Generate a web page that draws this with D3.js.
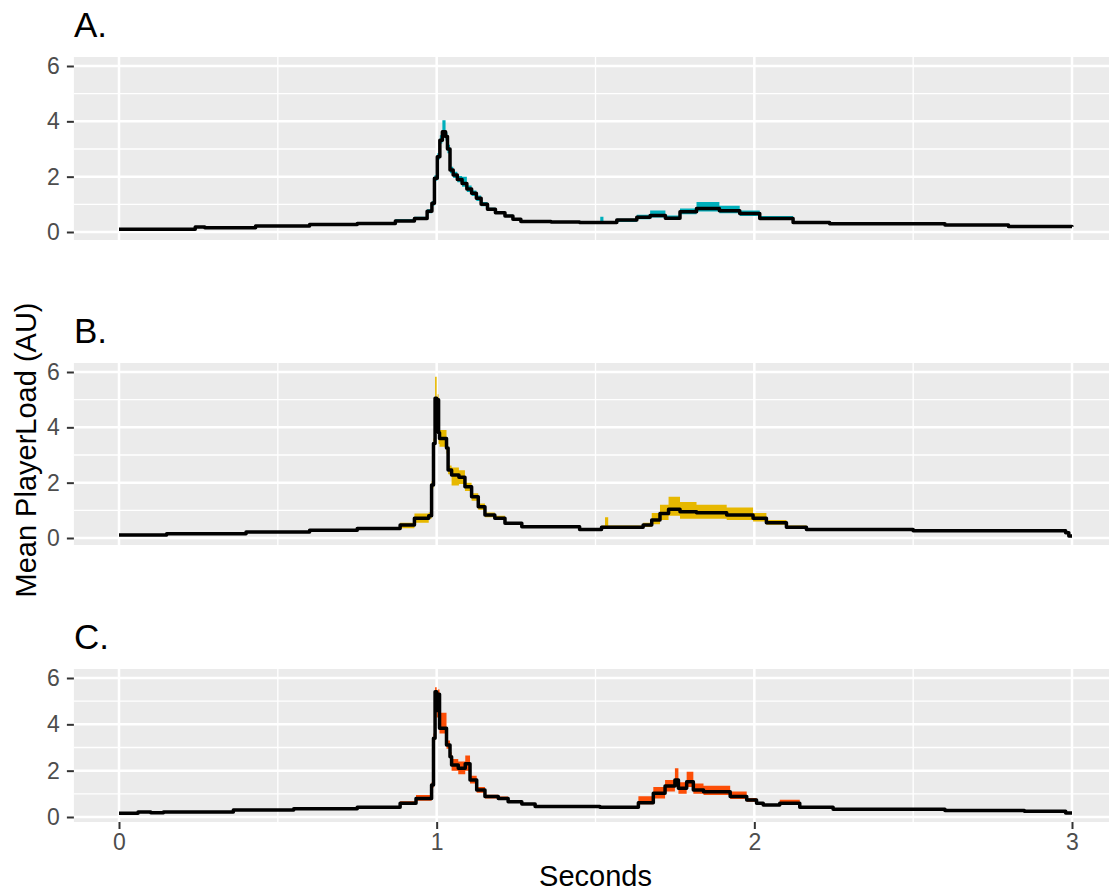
<!DOCTYPE html>
<html>
<head>
<meta charset="utf-8">
<script src="https://cdn.jsdelivr.net/npm/d3@7"></script>
<style>
  body { margin: 0; background: #fff; }
  svg { display: block; font-family: "Liberation Sans", Arial, sans-serif; }
</style>
</head>
<body>
<svg width="1109" height="894"></svg>
<script>
// panel A
var timeA = [0.00, 0.24, 0.27, 0.43, 0.60, 0.75, 0.87, 0.93, 0.97, 0.985, 0.993, 1.002, 1.010, 1.018, 1.028, 1.034, 1.042, 1.052, 1.065, 1.080, 1.095, 1.110, 1.125, 1.140, 1.160, 1.185, 1.215, 1.240, 1.265, 1.36, 1.45, 1.515, 1.525, 1.567, 1.63, 1.672, 1.72, 1.766, 1.818, 1.89, 1.954, 2.017, 2.122, 2.237, 2.6, 2.8, 3.0];
var meanA = [0.10, 0.18, 0.15, 0.22, 0.27, 0.31, 0.40, 0.49, 0.75, 1.04, 1.94, 2.72, 3.32, 3.62, 3.45, 3.00, 2.24, 2.06, 1.90, 1.75, 1.55, 1.40, 1.22, 1.00, 0.82, 0.70, 0.58, 0.46, 0.38, 0.36, 0.34, 0.34, 0.34, 0.43, 0.53, 0.60, 0.50, 0.73, 0.85, 0.77, 0.67, 0.49, 0.34, 0.30, 0.25, 0.20, 0.19];
var lowA  = [0.09, 0.17, 0.14, 0.21, 0.26, 0.30, 0.36, 0.44, 0.68, 0.95, 1.85, 2.62, 3.20, 3.50, 3.30, 2.85, 2.12, 1.95, 1.80, 1.64, 1.45, 1.30, 1.12, 0.93, 0.76, 0.66, 0.55, 0.44, 0.37, 0.35, 0.33, 0.33, 0.33, 0.36, 0.46, 0.52, 0.44, 0.64, 0.74, 0.68, 0.58, 0.43, 0.32, 0.29, 0.24, 0.19, 0.18];
var highA = [0.11, 0.19, 0.16, 0.23, 0.28, 0.32, 0.46, 0.55, 0.82, 1.12, 2.05, 2.85, 3.50, 4.04, 3.60, 3.15, 2.36, 2.18, 2.02, 2.00, 1.68, 1.50, 1.32, 1.08, 0.88, 0.76, 0.62, 0.50, 0.40, 0.38, 0.36, 0.55, 0.36, 0.48, 0.62, 0.78, 0.60, 0.85, 1.08, 0.95, 0.78, 0.58, 0.38, 0.32, 0.26, 0.21, 0.20];

// panel B
var timeB = [0.00, 0.15, 0.40, 0.60, 0.75, 0.885, 0.93, 0.975, 0.984, 0.990, 0.995, 1.000, 1.003, 1.006, 1.009, 1.031, 1.036, 1.047, 1.070, 1.089, 1.110, 1.131, 1.152, 1.183, 1.215, 1.268, 1.45, 1.519, 1.53, 1.54, 1.65, 1.677, 1.703, 1.73, 1.766, 1.818, 1.913, 1.996, 2.038, 2.101, 2.164, 2.5, 2.98, 2.99, 3.0];
var meanB = [0.11, 0.15, 0.22, 0.28, 0.34, 0.47, 0.71, 0.80, 1.92, 3.42, 5.05, 4.20, 5.00, 3.80, 3.60, 3.25, 2.46, 2.28, 2.20, 1.85, 1.49, 1.13, 0.83, 0.71, 0.53, 0.41, 0.31, 0.39, 0.39, 0.39, 0.47, 0.65, 0.89, 1.04, 0.95, 0.91, 0.83, 0.71, 0.55, 0.39, 0.31, 0.26, 0.19, 0.07, 0.07];
var lowB  = [0.10, 0.14, 0.21, 0.27, 0.32, 0.35, 0.55, 0.70, 1.80, 3.30, 4.90, 3.90, 4.80, 3.40, 3.30, 3.05, 2.30, 1.90, 1.95, 1.70, 1.35, 1.02, 0.75, 0.66, 0.50, 0.39, 0.30, 0.33, 0.33, 0.36, 0.40, 0.50, 0.65, 0.80, 0.70, 0.70, 0.65, 0.60, 0.48, 0.35, 0.29, 0.25, 0.18, 0.06, 0.06];
var highB = [0.12, 0.16, 0.23, 0.29, 0.36, 0.55, 0.89, 0.92, 2.05, 3.60, 5.83, 4.60, 5.20, 4.10, 3.90, 3.45, 2.62, 2.55, 2.45, 2.00, 1.62, 1.25, 0.92, 0.80, 0.58, 0.44, 0.33, 0.45, 0.75, 0.45, 0.55, 0.90, 1.20, 1.49, 1.30, 1.20, 1.10, 0.90, 0.65, 0.45, 0.33, 0.27, 0.20, 0.08, 0.08];

// panel C
var timeC = [0.00, 0.06, 0.10, 0.14, 0.36, 0.55, 0.75, 0.885, 0.935, 0.984, 0.990, 0.995, 1.000, 1.004, 1.009, 1.031, 1.042, 1.047, 1.068, 1.090, 1.105, 1.126, 1.152, 1.194, 1.225, 1.268, 1.31, 1.514, 1.635, 1.682, 1.719, 1.75, 1.761, 1.787, 1.808, 1.84, 1.924, 1.976, 2.007, 2.028, 2.08, 2.143, 2.248, 2.6, 2.85, 2.98, 3.0];
var meanC = [0.16, 0.22, 0.18, 0.22, 0.30, 0.36, 0.42, 0.59, 0.80, 1.38, 3.40, 5.41, 4.60, 5.30, 3.83, 3.11, 2.60, 2.24, 2.10, 2.30, 1.60, 1.17, 0.88, 0.80, 0.66, 0.56, 0.45, 0.42, 0.62, 1.02, 1.34, 1.60, 1.24, 1.52, 1.17, 1.09, 0.88, 0.73, 0.59, 0.52, 0.59, 0.42, 0.33, 0.28, 0.25, 0.17, 0.17];
var lowC  = [0.15, 0.21, 0.17, 0.21, 0.29, 0.35, 0.40, 0.52, 0.70, 1.25, 3.25, 5.20, 4.30, 5.00, 3.60, 2.95, 2.45, 2.00, 1.85, 2.00, 1.45, 1.05, 0.80, 0.74, 0.62, 0.53, 0.43, 0.40, 0.55, 0.80, 1.10, 1.30, 1.00, 1.30, 1.00, 0.95, 0.78, 0.66, 0.55, 0.49, 0.52, 0.40, 0.32, 0.27, 0.24, 0.16, 0.16];
var highC = [0.17, 0.23, 0.19, 0.23, 0.31, 0.37, 0.46, 0.68, 0.95, 1.50, 3.60, 5.60, 4.90, 5.50, 4.50, 3.30, 2.80, 2.50, 2.40, 2.65, 1.78, 1.30, 0.96, 0.88, 0.72, 0.60, 0.48, 0.44, 0.90, 1.30, 1.60, 2.10, 1.50, 1.95, 1.45, 1.35, 1.10, 0.82, 0.65, 0.56, 0.75, 0.45, 0.35, 0.29, 0.26, 0.18, 0.18];

var panelTitles = ["A.", "B.", "C."];
var ribbonColors = ["#00AFBB", "#E7B800", "#FC4E07"];
var xTicks = [0, 1, 2, 3];
var yTicks = [0, 2, 4, 6];

var svg = d3.select("svg");

var x = d3.scaleLinear().domain([0, 3]).range([119, 1072]);
var xLeft = x(-0.142), xRight = x(3.142);

// pixel layout of each panel: where 0 and 6 sit, and the panel's top/bottom edge
var layout = [
  { zero: 232, six: 66, top: 57, bottom: 240 },
  { zero: 538, six: 372, top: 363, bottom: 545 },
  { zero: 817, six: 678, top: 669, bottom: 822 }
];
var series = [
  { t: timeA, m: meanA, lo: lowA, hi: highA },
  { t: timeB, m: meanB, lo: lowB, hi: highB },
  { t: timeC, m: meanC, lo: lowC, hi: highC }
];

layout.forEach(function (p, i) {
  var y = d3.scaleLinear().domain([0, 6]).range([p.zero, p.six]);
  var g = svg.append("g");

  g.append("rect")
    .attr("x", xLeft).attr("y", p.top)
    .attr("width", xRight - xLeft).attr("height", p.bottom - p.top)
    .attr("fill", "#EBEBEB");

  // minor grid
  [1, 3, 5].forEach(function (v) {
    g.append("line").attr("x1", xLeft).attr("x2", xRight)
      .attr("y1", y(v)).attr("y2", y(v))
      .attr("stroke", "#fff").attr("stroke-width", 1.3);
  });
  [0.5, 1.5, 2.5].forEach(function (v) {
    g.append("line").attr("x1", x(v)).attr("x2", x(v))
      .attr("y1", p.top).attr("y2", p.bottom)
      .attr("stroke", "#fff").attr("stroke-width", 1.3);
  });
  // major grid
  yTicks.forEach(function (v) {
    g.append("line").attr("x1", xLeft).attr("x2", xRight)
      .attr("y1", y(v)).attr("y2", y(v))
      .attr("stroke", "#fff").attr("stroke-width", 2.5);
  });
  xTicks.forEach(function (v) {
    g.append("line").attr("x1", x(v)).attr("x2", x(v))
      .attr("y1", p.top).attr("y2", p.bottom)
      .attr("stroke", "#fff").attr("stroke-width", 2.5);
  });

  var s = series[i];
  var rows = s.t.map(function (t, k) {
    return { t: t, m: s.m[k], lo: s.lo[k], hi: s.hi[k] };
  });

  var area = d3.area()
    .curve(d3.curveStepAfter)
    .x(function (d) { return x(d.t); })
    .y0(function (d) { return y(d.lo); })
    .y1(function (d) { return y(d.hi); });
  var line = d3.line()
    .curve(d3.curveStepAfter)
    .x(function (d) { return x(d.t); })
    .y(function (d) { return y(d.m); });

  g.append("path").datum(rows)
    .attr("fill", ribbonColors[i])
    .attr("d", area);
  g.append("path").datum(rows)
    .attr("fill", "none")
    .attr("stroke", "#000")
    .attr("stroke-width", 3.5)
    .attr("stroke-linejoin", "round")
    .attr("d", line);

  // y axis
  var ya = g.append("g")
    .attr("transform", "translate(" + xLeft + ",0)")
    .call(d3.axisLeft(y).tickValues(yTicks).tickSize(7).tickPadding(7).tickFormat(d3.format("d")));
  ya.select(".domain").remove();
  ya.selectAll(".tick line").attr("stroke", "#333333").attr("stroke-width", 2);
  ya.selectAll(".tick text")
    .attr("fill", "#4D4D4D")
    .style("font-size", "23px")
    .style("font-family", "Liberation Sans, Arial, sans-serif");

  g.append("text")
    .attr("x", xLeft).attr("y", p.top - 20)
    .attr("fill", "#000")
    .style("font-size", "35px")
    .text(panelTitles[i]);

  if (i === 2) {
    var xa = g.append("g")
      .attr("transform", "translate(0," + p.bottom + ")")
      .call(d3.axisBottom(x).tickValues(xTicks).tickSize(7).tickPadding(5).tickFormat(d3.format("d")));
    xa.select(".domain").remove();
    xa.selectAll(".tick line").attr("stroke", "#333333").attr("stroke-width", 2);
    xa.selectAll(".tick text")
      .attr("fill", "#4D4D4D")
      .style("font-size", "23px")
      .style("font-family", "Liberation Sans, Arial, sans-serif");
  }
});

svg.append("text")
  .attr("x", (xLeft + xRight) / 2).attr("y", 886)
  .attr("text-anchor", "middle")
  .attr("fill", "#000")
  .style("font-size", "29px")
  .text("Seconds");

svg.append("text")
  .attr("transform", "translate(36,450) rotate(-90)")
  .attr("text-anchor", "middle")
  .attr("fill", "#000")
  .style("font-size", "29px")
  .text("Mean PlayerLoad (AU)");
</script>
</body>
</html>
